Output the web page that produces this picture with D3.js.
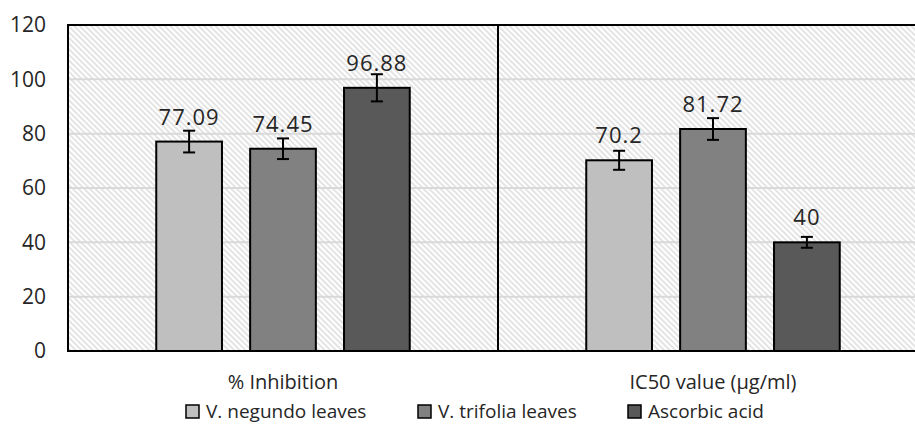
<!DOCTYPE html>
<html>
<head>
<meta charset="utf-8">
<script src="https://cdn.jsdelivr.net/npm/d3@7"></script>
<style>
  html, body { margin: 0; padding: 0; background: #fff; }
  svg text { font-family: "Open Sans", "Liberation Sans", sans-serif; fill: #262626; }
</style>
</head>
<body>
<div id="chart"></div>
<script>
// ── Data ───────────────────────────────────────────────────────────────────
const categories = ["% Inhibition", "IC50 value (µg/ml)"];
const seriesNames = ["V. negundo leaves", "V. trifolia leaves", "Ascorbic acid"];
const negundo  = [77.09, 70.2];
const trifolia = [74.45, 81.72];
const ascorbic = [96.88, 40];
const negundoErr  = [4, 3.5];
const trifoliaErr = [3.8, 4];
const ascorbicErr = [5, 2];
const labels = [["77.09", "70.2"], ["74.45", "81.72"], ["96.88", "40"]];
const yTicks = [0, 20, 40, 60, 80, 100, 120];

const series = [negundo, trifolia, ascorbic];
const errors = [negundoErr, trifoliaErr, ascorbicErr];
const fills  = ["#bfbfbf", "#818181", "#595959"];

// ── Dimensions ─────────────────────────────────────────────────────────────
const W = 915, H = 424;
const M = { left: 68, top: 25, right: -13, bottom: 73 };

const svg = d3.select("#chart").append("svg")
  .attr("width", W).attr("height", H);

// diagonal hatch background
const defs = svg.append("defs");
const hatch = defs.append("pattern")
  .attr("id", "hatch")
  .attr("patternUnits", "userSpaceOnUse")
  .attr("width", 4).attr("height", 4)
  .attr("patternTransform", "rotate(45)");
hatch.append("rect").attr("width", 4).attr("height", 4).attr("fill", "#fff");
hatch.append("line")
  .attr("x1", 0).attr("y1", 2).attr("x2", 4).attr("y2", 2)
  .attr("stroke", "#d9d9d9").attr("stroke-width", 1.4);

const x0 = d3.scaleBand()
  .domain(categories)
  .range([M.left, W - M.right]);

const x1 = d3.scaleBand()
  .domain(d3.range(seriesNames.length))
  .range([0, x0.bandwidth()])
  .paddingInner(0.3)
  .paddingOuter(0.94);

const y = d3.scaleLinear()
  .domain([0, 120])
  .range([H - M.bottom, M.top]);

svg.append("rect")
  .attr("x", M.left).attr("y", M.top)
  .attr("width", W - M.right - M.left)
  .attr("height", y(0) - M.top)
  .attr("fill", "url(#hatch)");

// gridlines
svg.append("g")
  .selectAll("line")
  .data(yTicks.filter(t => t > 0 && t < 120))
  .join("line")
  .attr("x1", M.left).attr("x2", W - M.right)
  .attr("y1", d => y(d)).attr("y2", d => y(d))
  .attr("stroke", "#d9d9d9").attr("stroke-width", 2);

// y axis labels
const yAxis = d3.axisLeft(y).tickValues(yTicks).tickSize(0).tickPadding(22);
svg.append("g")
  .attr("transform", `translate(${M.left},0)`)
  .call(yAxis)
  .call(g => g.select(".domain").remove())
  .call(g => g.selectAll("text")
    .attr("font-size", 21)
    .style("font-family", "'Open Sans', sans-serif")
    .attr("fill", "#262626"));

// bars, error bars, value labels
const catG = svg.append("g").selectAll("g")
  .data(categories)
  .join("g")
  .attr("transform", d => `translate(${x0(d)},0)`);

catG.each(function(cat, ci) {
  const g = d3.select(this);
  series.forEach((s, si) => {
    const bx = x1(si), bw = x1.bandwidth(), v = s[ci], e = errors[si][ci];
    g.append("rect")
      .attr("x", bx).attr("y", y(v))
      .attr("width", bw).attr("height", y(0) - y(v))
      .attr("fill", fills[si])
      .attr("stroke", "#000").attr("stroke-width", 2);
    const cx = bx + bw / 2;
    g.append("line")
      .attr("x1", cx).attr("x2", cx)
      .attr("y1", y(v + e)).attr("y2", y(v - e))
      .attr("stroke", "#000").attr("stroke-width", 2);
    [v + e, v - e].forEach(t => {
      g.append("line")
        .attr("x1", cx - 6).attr("x2", cx + 6)
        .attr("y1", y(t)).attr("y2", y(t))
        .attr("stroke", "#000").attr("stroke-width", 2);
    });
    g.append("text")
      .attr("x", cx).attr("y", y(v) - 17)
      .attr("text-anchor", "middle")
      .attr("font-size", 22)
      .attr("letter-spacing", 1)
      .text(labels[si][ci]);
  });
});

// plot border and divider
svg.append("rect")
  .attr("x", M.left).attr("y", M.top)
  .attr("width", W - M.right - M.left)
  .attr("height", y(0) - M.top)
  .attr("fill", "none").attr("stroke", "#000").attr("stroke-width", 2);
svg.append("line")
  .attr("x1", x0(categories[1])).attr("x2", x0(categories[1]))
  .attr("y1", M.top).attr("y2", y(0))
  .attr("stroke", "#000").attr("stroke-width", 2);

// category labels
svg.append("g").selectAll("text")
  .data(categories)
  .join("text")
  .attr("x", d => x0(d) + x0.bandwidth() / 2)
  .attr("y", 389)
  .attr("text-anchor", "middle")
  .attr("font-size", 20)
  .text(d => d);

// legend
const legX = [186, 418, 628];
const leg = svg.append("g").selectAll("g")
  .data(seriesNames)
  .join("g")
  .attr("transform", (d, i) => `translate(${legX[i]},405)`);
leg.append("rect")
  .attr("x", 0).attr("y", 0).attr("width", 13).attr("height", 13)
  .attr("fill", (d, i) => fills[i])
  .attr("stroke", "#000").attr("stroke-width", 1.5);
leg.append("text")
  .attr("x", 20).attr("y", 13)
  .attr("font-size", 19)
  .text(d => d);
</script>
</body>
</html>
